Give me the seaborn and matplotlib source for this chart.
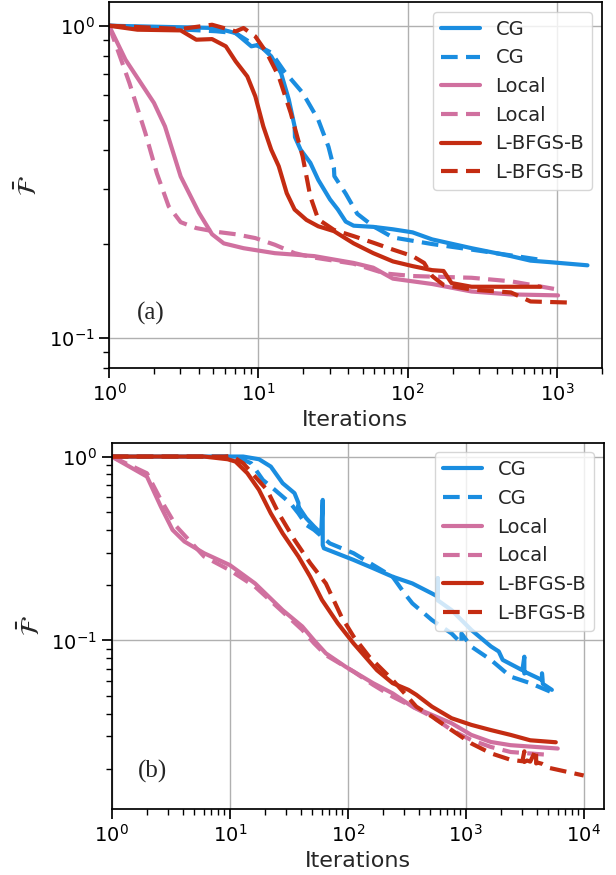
import numpy as np
import pandas as pd
import matplotlib
matplotlib.use("Agg")
import matplotlib.pyplot as plt
import matplotlib.ticker as mticker
import seaborn as sns

# ---------------- data: panel (a) ----------------
a_cg_x = [1, 5.2, 7.05, 8.98, 10.1, 12.2, 14.2, 16.0, 17.5, 17.6, 19.2, 22.3, 25.2, 30.2, 34.1, 38.5,
          43.5, 58.9, 79.7, 108, 146, 268, 492, 666, 902, 1603]
a_cg_y = [1.0, 0.983, 0.947, 0.859, 0.869, 0.798, 0.705, 0.580, 0.476, 0.44, 0.401, 0.364, 0.321, 0.278,
          0.258, 0.236, 0.229, 0.227, 0.223, 0.218, 0.207, 0.194, 0.183, 0.177, 0.175, 0.171]
a_cgd_x = [1, 5.2, 7.05, 8.98, 10.1, 12.2, 14.9, 19.8, 25.2, 29.5, 32.1, 32.3, 38.5, 46.0, 58.9, 79.7,
           146, 268, 492, 780]
a_cgd_y = [1.0, 0.96, 0.947, 0.88, 0.859, 0.82, 0.715, 0.61, 0.50, 0.41, 0.35, 0.33, 0.29, 0.25, 0.228,
           0.21, 0.20, 0.192, 0.184, 0.178]
a_loc_x = [1, 1.29, 2.0, 2.37, 3.02, 4.0, 4.9, 5.87, 7.96, 12.9, 23.7, 43.5, 58.9, 79.7, 146, 268, 492, 1018]
a_loc_y = [1.0, 0.778, 0.566, 0.476, 0.329, 0.252, 0.215, 0.201, 0.194, 0.187, 0.183, 0.174, 0.168,
           0.155, 0.149, 0.141, 0.138, 0.137]
a_locd_x = [1, 1.37, 1.75, 2.09, 2.51, 3.02, 3.84, 5.2, 7.05, 9.55, 12.9, 17.5, 23.7, 43.5, 70.6, 108,
            268, 492, 1018]
a_locd_y = [1.0, 0.655, 0.454, 0.337, 0.264, 0.235, 0.225, 0.219, 0.215, 0.209, 0.199, 0.187, 0.181,
            0.173, 0.161, 0.158, 0.156, 0.152, 0.143]
a_lb_x = [1, 1.55, 3.02, 3.84, 4.9, 6.06, 7.05, 8.44, 9.55, 10.8, 12.2, 13.7, 15.5, 17.5, 21.0, 25.2,
          32.1, 43.5, 58.9, 79.7, 108, 146, 174, 197, 268, 492, 775]
a_lb_y = [1.0, 0.971, 0.966, 0.902, 0.906, 0.859, 0.769, 0.688, 0.594, 0.476, 0.401, 0.355, 0.291,
          0.258, 0.239, 0.228, 0.220, 0.201, 0.187, 0.176, 0.170, 0.165, 0.164, 0.150, 0.146, 0.146, 0.146]
a_lbd_x = [1, 3.02, 4.9, 7.05, 7.96, 9.55, 11.4, 13.7, 16.5, 19.8, 22.3, 25.2, 32.1, 43.5, 58.9, 79.7,
           108, 129, 146, 174, 268, 492, 666, 1181]
a_lbd_y = [1.0, 0.976, 1.007, 0.959, 0.983, 0.924, 0.818, 0.688, 0.525, 0.382, 0.284, 0.240, 0.222,
           0.212, 0.202, 0.192, 0.183, 0.174, 0.158, 0.148, 0.143, 0.140, 0.131, 0.130]

# ---------------- data: panel (b) ----------------
b_cg_x = [1, 13.0, 17.7, 22.3, 28.1, 35.4, 38.2, 38.2, 38.2, 44.5, 51.9, 59.6, 61.4, 61.4, 62.8, 112,
          164, 240, 353, 517, 580, 580, 580, 759, 1114, 1634, 1905, 2056, 3018, 3137, 3137, 3200, 4426,
          4426, 4500, 5366]
b_cg_y = [1.0, 1.0, 0.967, 0.882, 0.716, 0.632, 0.560, 0.50, 0.534, 0.462, 0.416, 0.382, 0.581, 0.33,
          0.317, 0.274, 0.247, 0.222, 0.204, 0.180, 0.173, 0.218, 0.165, 0.146, 0.114, 0.0927, 0.0870,
          0.0783, 0.0688, 0.0815, 0.066, 0.0672, 0.0609, 0.0662, 0.058, 0.0538]
b_cgd_x = [1, 11.2, 15.2, 19.1, 24.1, 32.7, 38.2, 44.5, 51.9, 70.5, 112, 164, 240, 303, 353, 517, 759,
           920, 920, 1114, 1634, 2399, 3519, 5164]
b_cgd_y = [1.0, 1.0, 0.920, 0.746, 0.659, 0.557, 0.491, 0.425, 0.399, 0.337, 0.298, 0.257, 0.222, 0.180,
           0.159, 0.129, 0.109, 0.0962, 0.109, 0.0925, 0.0783, 0.0635, 0.0585, 0.0527]
b_loc_x = [1, 1.99, 2.61, 3.28, 4.13, 6.06, 10, 16.4, 28.1, 41.2, 51.9, 65.3, 95.8, 164, 240, 353, 517,
           759, 1114, 1634, 2399, 6020]
b_loc_y = [1.0, 0.778, 0.534, 0.399, 0.345, 0.298, 0.257, 0.204, 0.146, 0.119, 0.100, 0.0850, 0.0719,
           0.0585, 0.0515, 0.0436, 0.0393, 0.0354, 0.0306, 0.0280, 0.0269, 0.0258]
b_locd_x = [1, 1.99, 2.61, 3.54, 6.06, 10, 16.4, 28.1, 41.2, 51.9, 65.3, 112, 164, 240, 517, 759, 1114,
            1634, 2399, 5164]
b_locd_y = [1.0, 0.811, 0.581, 0.416, 0.286, 0.241, 0.196, 0.143, 0.114, 0.0963, 0.0831, 0.0676, 0.0573,
            0.0494, 0.0385, 0.0325, 0.0287, 0.0263, 0.0247, 0.0238]
b_lb_x = [1, 6.06, 9.6, 11.2, 14.1, 17.7, 22.3, 28.1, 38.2, 48.1, 60.5, 82.2, 112, 177, 240, 327, 381,
          517, 759, 1114, 1634, 2399, 3519, 5794]
b_lb_y = [1.0, 1.0, 0.967, 0.939, 0.812, 0.659, 0.491, 0.382, 0.286, 0.222, 0.166, 0.124, 0.0963, 0.0688,
          0.0585, 0.0538, 0.0506, 0.0436, 0.0377, 0.0347, 0.0325, 0.0306, 0.0286, 0.0279]
b_lbd_x = [1, 9.0, 10.4, 13.0, 16.4, 20.7, 26.0, 35.4, 48.1, 65.3, 88.7, 112, 152, 240, 303, 381, 517,
           759, 1114, 1634, 2399, 3018, 3137, 3137, 3300, 3519, 3948, 3948, 4100, 4426, 5164, 9980]
b_lbd_y = [1.0, 1.0, 1.008, 0.920, 0.778, 0.659, 0.491, 0.352, 0.263, 0.204, 0.134, 0.105, 0.0815, 0.0609,
           0.0515, 0.0436, 0.0385, 0.0325, 0.0275, 0.0243, 0.0224, 0.0220, 0.0249, 0.0218, 0.0222, 0.0219,
           0.0255, 0.0214, 0.0216, 0.0213, 0.0202, 0.0184]

labels = ["CG", "CG", "Local", "Local", "L-BFGS-B", "L-BFGS-B"]
colors = ["#1a8de0", "#1a8de0", "#d0709f", "#d0709f", "#c42c12", "#c42c12"]
dashed = [False, True, False, True, False, True]

panel_a = [(a_cg_x, a_cg_y), (a_cgd_x, a_cgd_y), (a_loc_x, a_loc_y), (a_locd_x, a_locd_y),
           (a_lb_x, a_lb_y), (a_lbd_x, a_lbd_y)]
panel_b = [(b_cg_x, b_cg_y), (b_cgd_x, b_cgd_y), (b_loc_x, b_loc_y), (b_locd_x, b_locd_y),
           (b_lb_x, b_lb_y), (b_lbd_x, b_lbd_y)]

sns.set_theme(style="ticks")
plt.rcParams["font.family"] = ["DejaVu Sans"]
plt.rcParams["mathtext.fontset"] = "dejavusans"
plt.rcParams.update({
    "axes.edgecolor": "black",
    "axes.linewidth": 1.25,
    "xtick.major.size": 7, "ytick.major.size": 7,
    "xtick.minor.size": 4, "ytick.minor.size": 4,
    "xtick.major.width": 1.25, "ytick.major.width": 1.25,
    "xtick.minor.width": 1.0, "ytick.minor.width": 1.0,
    "xtick.color": "black", "ytick.color": "black",
    "xtick.labelsize": 14, "ytick.labelsize": 14,
    "legend.fontsize": 14,
})

fig = plt.figure(figsize=(6.16, 8.75), dpi=100)
ax_a = fig.add_axes([0.177, 0.579, 0.800, 0.4186])
ax_b = fig.add_axes([0.1813, 0.0751, 0.799, 0.419])


def draw(ax, series, xlim, ylim, tag, tagpos):
    for (xs, ys), lab, col, dsh in zip(series, labels, colors, dashed):
        df = pd.DataFrame({"x": xs, "y": ys})
        sns.lineplot(data=df, x="x", y="y", ax=ax, sort=False, estimator=None, color=col,
                     linewidth=3, label=lab,
                     linestyle=(0, (4, 2)) if dsh else "-")
    ax.set_xscale("log")
    ax.set_yscale("log")
    ax.set_xlim(*xlim)
    ax.set_ylim(*ylim)
    ax.grid(True, which="major", color="#b0b0b0", linewidth=1.0)
    ax.yaxis.set_minor_formatter(mticker.NullFormatter())
    ax.xaxis.set_minor_locator(mticker.LogLocator(base=10, subs=np.arange(2, 10), numticks=20))
    ax.set_xlabel("Iterations", fontsize=16)
    ax.set_ylabel(r"$\bar{\mathcal{F}}$", fontsize=19)
    ax.legend(loc="upper right", fontsize=14)
    ax.text(tagpos[0], tagpos[1], tag, transform=ax.transAxes, ha="center", va="center",
            fontsize=18, family=["Liberation Serif", "DejaVu Serif"])
    for s in ax.spines.values():
        s.set_visible(True)
        s.set_color("black")


draw(ax_a, panel_a, (1, 2000), (0.080, 1.19), "(a)", (0.085, 0.151))
draw(ax_b, panel_b, (1, 14800), (0.01205, 1.19), "(b)", (0.082, 0.1026))

fig.savefig("out.png", dpi=100)
